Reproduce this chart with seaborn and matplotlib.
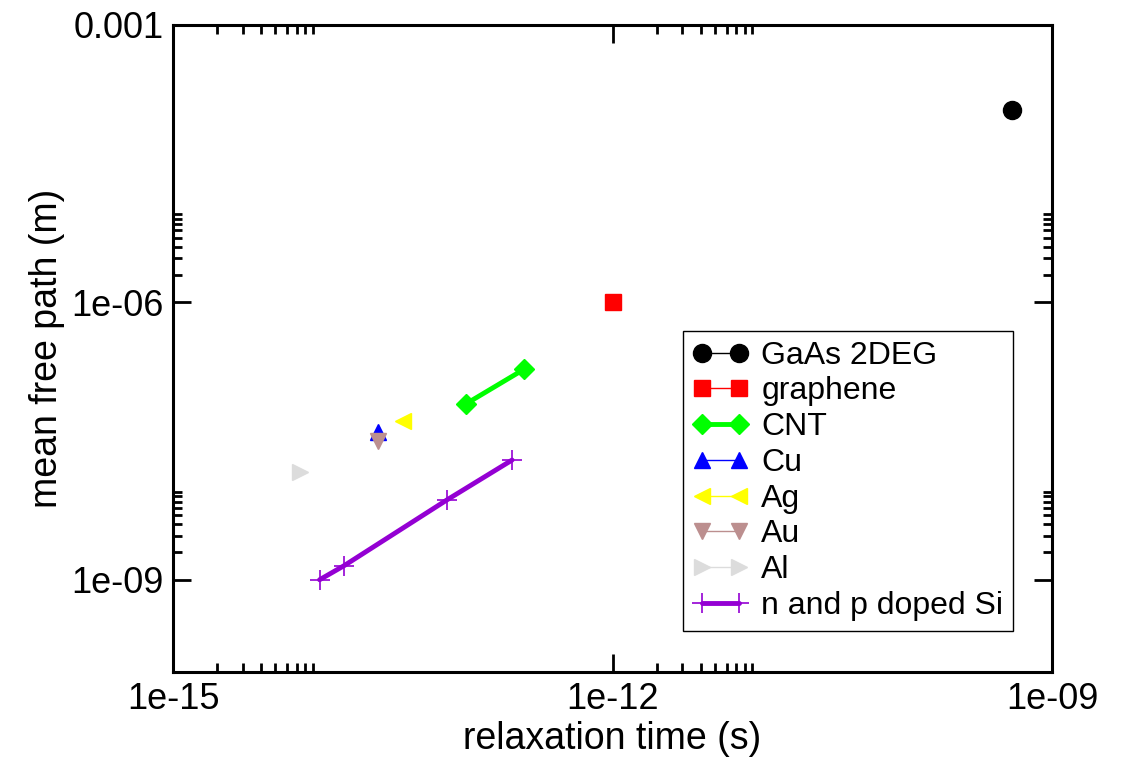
import matplotlib
matplotlib.use("Agg")
import matplotlib.pyplot as plt
import matplotlib.ticker as mticker
import pandas as pd
import seaborn as sns

# series data (relaxation time in s, mean free path in m)
GAAS_T = [5.3e-10]
GAAS_L = [1.2e-4]
GRAPHENE_T = [1e-12]
GRAPHENE_L = [1e-6]
CNT_T = [1e-13, 2.5e-13]
CNT_L = [8e-8, 1.9e-7]
CU_T = [2.5e-14]
CU_L = [4.0e-8]
AG_T = [3.7e-14]
AG_L = [5.2e-8]
AU_T = [2.5e-14]
AU_L = [3.2e-8]
AL_T = [7.4e-15]
AL_L = [1.45e-8]
SI_T = [1e-14, 1.47e-14, 7.4e-14, 2.06e-13]
SI_L = [1e-9, 1.42e-9, 7.3e-9, 1.97e-8]

X_TICKS = [1e-15, 1e-12, 1e-9]
X_LABELS = ["1e-15", "1e-12", "1e-09"]
Y_TICKS = [1e-9, 1e-6, 1e-3]
Y_LABELS = ["1e-09", "1e-06", "0.001"]

# (label, t, l, color, marker, markersize, linewidth, mew)
SERIES = [
    ("GaAs 2DEG", GAAS_T, GAAS_L, "#000000", "o", 13, 1.0, 1),
    ("graphene", GRAPHENE_T, GRAPHENE_L, "#FF0000", "s", 11, 1.0, 1),
    ("CNT", CNT_T, CNT_L, "#00FF00", "D", 10, 3.5, 1),
    ("Cu", CU_T, CU_L, "#0000FF", "^", 11, 1.0, 1),
    ("Ag", AG_T, AG_L, "#FFFF00", "<", 11, 1.0, 1),
    ("Au", AU_T, AU_L, "#BC8F8F", "v", 11, 1.0, 1),
    ("Al", AL_T, AL_L, "#DCDCDC", ">", 11, 1.0, 1),
    ("n and p doped Si", SI_T, SI_L, "#9400D3", "+", 15, 3.5, 1.2),
]

sns.set_theme(style="ticks")
plt.rcParams["font.family"] = ["Liberation Sans", "DejaVu Sans"]
plt.rcParams["text.color"] = "black"

fig = plt.figure(figsize=(11.24, 7.57), dpi=100)
ax = fig.add_axes([0.154, 0.112, 0.782, 0.855])

for label, t, l, color, marker, ms, lw, mew in SERIES:
    df = pd.DataFrame({"t": t, "l": l})
    sns.lineplot(data=df, x="t", y="l", ax=ax, color=color, marker=marker, markersize=ms,
                 linewidth=lw, markeredgecolor=color, markeredgewidth=mew, sort=False, label=label)

ax.set_xscale("log")
ax.set_yscale("log")
ax.set_xlim(1e-15, 1e-9)
ax.set_ylim(1e-10, 1e-3)

ax.xaxis.set_major_locator(mticker.FixedLocator(X_TICKS))
ax.xaxis.set_major_formatter(mticker.FixedFormatter(X_LABELS))
ax.yaxis.set_major_locator(mticker.FixedLocator(Y_TICKS))
ax.yaxis.set_major_formatter(mticker.FixedFormatter(Y_LABELS))
ax.xaxis.set_minor_locator(mticker.FixedLocator([k * d for d in (1e-15, 1e-12) for k in range(2, 10)]))
ax.yaxis.set_minor_locator(mticker.FixedLocator([k * d for d in (1e-9, 1e-6) for k in range(2, 10)]))
ax.xaxis.set_minor_formatter(mticker.NullFormatter())
ax.yaxis.set_minor_formatter(mticker.NullFormatter())

ax.tick_params(which="both", direction="in", top=True, right=True, width=2, color="black",
               labelsize=26, labelcolor="black")
ax.tick_params(which="major", length=13, pad=7)
ax.tick_params(which="minor", length=6.5)
for s in ax.spines.values():
    s.set_linewidth(2.2)
    s.set_color("black")

ax.set_xlabel("relaxation time (s)", fontsize=27, color="black", labelpad=3)
ax.set_ylabel("mean free path (m)", fontsize=27, color="black", labelpad=4)

leg = ax.legend(loc="upper left", bbox_to_anchor=(0.580, 0.527), borderaxespad=0, numpoints=2,
                fontsize=23, frameon=True, fancybox=False, edgecolor="black", framealpha=1,
                handlelength=1.75, handletextpad=0.4, labelspacing=0.18, borderpad=0.3)
leg.get_frame().set_linewidth(1.0)

fig.savefig("out.png", dpi=100)
